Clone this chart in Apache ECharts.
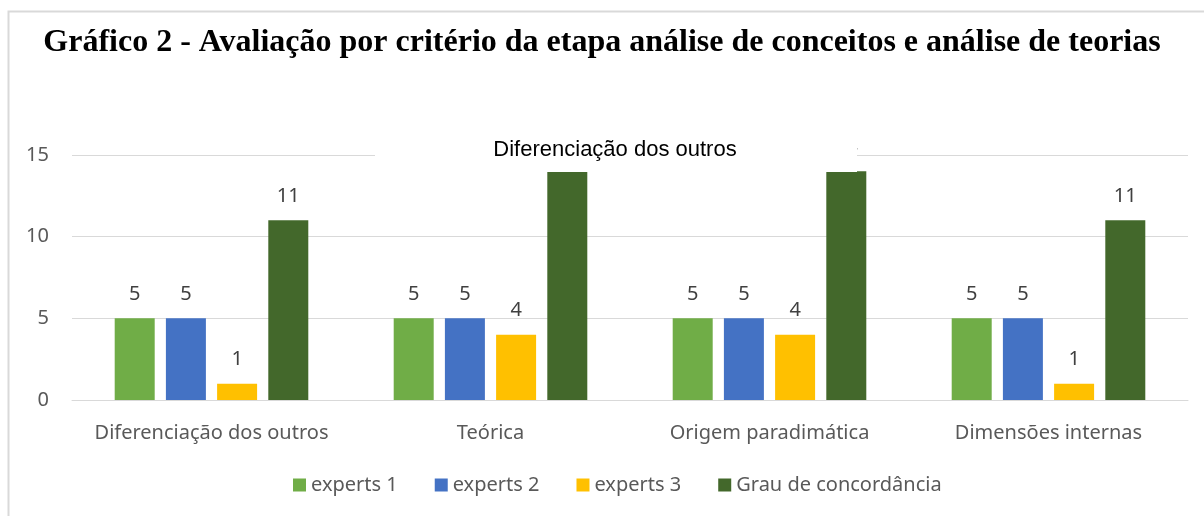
<!DOCTYPE html>
<html>
<head>
    <meta charset="UTF-8">
    <title></title>
    <style>
        html, body { margin: 0; padding: 0; background: #fff; }
        #container { width: 1204px; height: 516px; }
    </style>
</head>
<body>
    <div id="container"></div>
    <script src="https://cdn.jsdelivr.net/npm/echarts@6/dist/echarts.min.js"></script>
    <script>
        var categorias = ['Diferenciação dos outros', 'Teórica', 'Origem paradimática', 'Dimensões internas'];
        var experts1 = [5, 5, 5, 5];
        var experts2 = [5, 5, 5, 5];
        var experts3 = [1, 4, 4, 1];
        var grau = [11, 14, 14, 11];
        var nomes = ['experts 1', 'experts 2', 'experts 3', 'Grau de concordância'];
        var cores = ['#70AD47', '#4472C4', '#FFC000', '#43682B'];

        var fonte = '"Noto Sans", sans-serif';

        function serie(i, dados) {
            return {
                name: nomes[i],
                type: 'bar',
                data: dados,
                barWidth: 40,
                barGap: '28%',
                itemStyle: { color: cores[i] },
                label: {
                    show: true,
                    position: 'top',
                    distance: 14,
                    fontFamily: fonte,
                    fontSize: 20,
                    color: '#404040'
                }
            };
        }

        var myChart = echarts.init(document.getElementById('container'));
        myChart.setOption({
            animation: false,
            grid: { left: 72, right: 16, top: 155, bottom: 116 },
            graphic: [
                {
                    type: 'rect', z: 1,
                    shape: { x: 8.5, y: 11.5, width: 1300, height: 600 },
                    style: { fill: 'none', stroke: '#d9d9d9', lineWidth: 2 }
                },
                {
                    type: 'text', z: 100, left: 'center', top: 27,
                    style: {
                        text: 'Gráfico 2 - Avaliação por critério da etapa análise de conceitos e análise de teorias',
                        font: 'bold 32px "Liberation Serif", serif',
                        fill: '#000'
                    }
                },
                {
                    type: 'rect', z: 100,
                    shape: { x: 375, y: 128, width: 482, height: 44 },
                    style: { fill: '#fff' }
                },
                {
                    type: 'text', z: 101, x: 615, y: 150,
                    style: {
                        text: 'Diferenciação dos outros',
                        font: '22px "Liberation Sans", Arial, sans-serif',
                        fill: '#000',
                        align: 'center',
                        verticalAlign: 'middle'
                    }
                }
            ],
            legend: {
                left: 288,
                bottom: 16,
                itemWidth: 13,
                itemHeight: 13,
                itemGap: 37,
                icon: 'rect',
                textStyle: { fontFamily: fonte, fontSize: 20, color: '#595959' },
                data: nomes
            },
            xAxis: {
                type: 'category',
                data: categorias,
                axisLine: { show: true, lineStyle: { color: '#d9d9d9', width: 1 } },
                axisTick: { show: false },
                axisLabel: { fontFamily: fonte, fontSize: 20, color: '#595959', margin: 23, interval: 0 }
            },
            yAxis: {
                type: 'value',
                min: 0,
                max: 15,
                interval: 5,
                axisLine: { show: false },
                axisTick: { show: false },
                splitLine: { lineStyle: { color: '#d9d9d9', width: 1 } },
                axisLabel: { fontFamily: fonte, fontSize: 20, color: '#595959', margin: 23 }
            },
            series: [
                serie(0, experts1),
                serie(1, experts2),
                serie(2, experts3),
                serie(3, grau)
            ]
        });
    </script>
</body>
</html>
